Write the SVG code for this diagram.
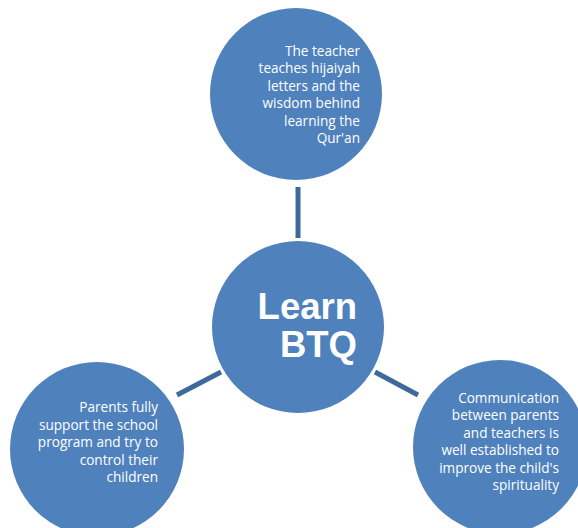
<svg xmlns="http://www.w3.org/2000/svg" width="578" height="528" viewBox="0 0 578 528">
<style>
.node{fill:#4F81BD}
.t{font-family:"Open Sans","Liberation Sans",sans-serif;font-size:13.6px;fill:#fff;text-anchor:end}
.big{font-family:"Liberation Sans",Arial,sans-serif;font-size:36.5px;font-weight:bold;fill:#fff;text-anchor:end}
.c{stroke:#3E6A9B;stroke-width:5;fill:none}
</style>
<rect width="578" height="528" fill="#fff"/>
<g id="connectors">
<line class="c" x1="298" y1="187" x2="298" y2="238"/>
<line class="c" x1="177" y1="395" x2="221" y2="372"/>
<line class="c" x1="375" y1="372" x2="418" y2="395"/>
</g>
<g id="top">
<circle class="node" cx="296" cy="94" r="86"/>
<text class="t" x="360" y="56">The teacher</text>
<text class="t" x="360" y="73.4">teaches hijaiyah</text>
<text class="t" x="360" y="90.8">letters and the</text>
<text class="t" x="360" y="108.2">wisdom behind</text>
<text class="t" x="360" y="125.6">learning the</text>
<text class="t" x="360" y="143">Qur'an</text>
</g>
<g id="center">
<circle class="node" cx="298" cy="327" r="86"/>
<text class="big" x="357" y="319">Learn</text>
<text class="big" x="357" y="357">BTQ</text>
</g>
<g id="left">
<circle class="node" cx="97" cy="449" r="87"/>
<text class="t" x="158" y="412">Parents fully</text>
<text class="t" x="158" y="429.5">support the school</text>
<text class="t" x="158" y="447">program and try to</text>
<text class="t" x="158" y="464.5">control their</text>
<text class="t" x="158" y="482">children</text>
</g>
<g id="right">
<circle class="node" cx="500" cy="447" r="87"/>
<text class="t" x="559" y="403">Communication</text>
<text class="t" x="559" y="420.4">between parents</text>
<text class="t" x="559" y="437.8">and teachers is</text>
<text class="t" x="559" y="455.2">well established to</text>
<text class="t" x="559" y="472.6">improve the child's</text>
<text class="t" x="559" y="490">spirituality</text>
</g>
</svg>
